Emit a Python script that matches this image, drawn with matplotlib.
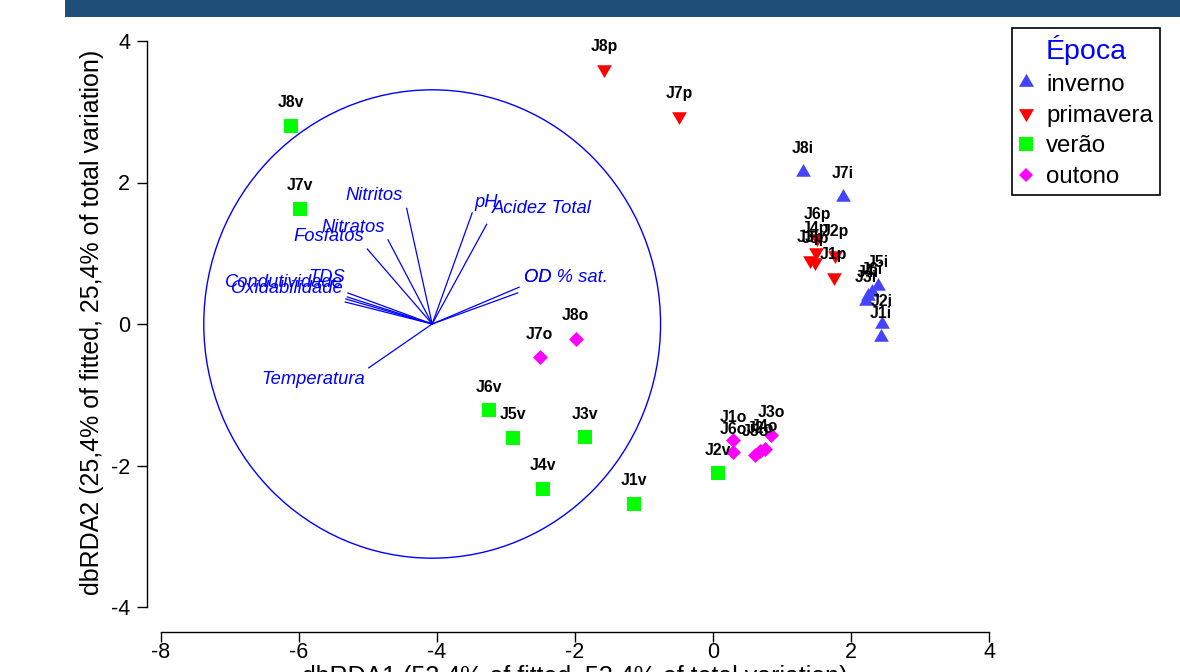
import matplotlib
matplotlib.use('Agg')
import matplotlib.pyplot as plt
from matplotlib.patches import Ellipse, Rectangle
from matplotlib.lines import Line2D

plt.rcParams['font.family'] = ['Liberation Sans', 'DejaVu Sans']

# ---------------- data ----------------
seasons = ["inverno", "primavera", "verão", "outono"]
season_colors = ["#4444FF", "#FF0000", "#00FF00", "#FF00FF"]

inv_labels = ["J1i", "J2i", "J3i", "J4i", "J5i", "J6i", "J7i", "J8i"]
inv_x = [2.43, 2.45, 2.22, 2.25, 2.39, 2.30, 1.88, 1.30]
inv_y = [-0.18, 0.00, 0.33, 0.40, 0.54, 0.45, 1.80, 2.15]

pri_labels = ["J1p", "J2p", "J3p", "J4p", "J5p", "J6p", "J7p", "J8p"]
pri_x = [1.75, 1.77, 1.41, 1.49, 1.48, 1.51, -0.49, -1.58]
pri_y = [0.66, 0.98, 0.90, 1.02, 0.88, 1.22, 2.94, 3.60]

ver_labels = ["J1v", "J2v", "J3v", "J4v", "J5v", "J6v", "J7v", "J8v"]
ver_x = [-1.14, 0.07, -1.86, -2.46, -2.90, -3.25, -5.99, -6.12]
ver_y = [-2.54, -2.11, -1.60, -2.33, -1.61, -1.22, 1.63, 2.80]

out_labels = ["J1o", "J2o", "J3o", "J4o", "J5o", "J6o", "J7o", "J8o"]
out_x = [0.29, 0.68, 0.84, 0.75, 0.61, 0.29, -2.51, -1.99]
out_y = [-1.64, -1.80, -1.57, -1.77, -1.85, -1.81, -0.47, -0.21]

# environmental vectors (origin + endpoints) and their labels
vec_origin = (-4.07, 0.0)
env_names = ["Nitritos", "Nitratos", "Fosfatos", "TDS", "Condutividade", "",
             "Oxidabilidade", "Temperatura", "pH", "Acidez Total", "OD", "OD % sat."]
env_x = [-4.44, -4.71, -5.01, -5.29, -5.30, -5.32, -5.33, -4.99, -3.49, -3.28, -2.81, -2.83]
env_y = [1.635, 1.19, 1.06, 0.438, 0.382, 0.353, 0.311, -0.62, 1.57, 1.41, 0.52, 0.44]
lab_x = [-4.49, -4.75, -5.06, -5.33, -5.36, -5.36, -5.36, -5.04, -3.45, -3.20, -2.74, -2.74]
lab_y = [1.82, 1.37, 1.24, 0.66, 0.59, 0.55, 0.50, -0.78, 1.72, 1.63, 0.66, 0.66]
lab_ha = ["right"] * 8 + ["left"] * 4

circle_radius = 3.31

x_ticks = [-8, -6, -4, -2, 0, 2, 4]
y_ticks = [-4, -2, 0, 2, 4]
x_label = "dbRDA1 (53,4% of fitted, 53,4% of total variation)"
y_label = "dbRDA2 (25,4% of fitted, 25,4% of total variation)"
legend_title = "Época"

# ---------------- figure ----------------
W, H = 1180, 672
fig = plt.figure(figsize=(W / 100, H / 100), dpi=100)

# dark band at top
fig.patches.append(Rectangle((65 / W, 1 - 17 / H), 1 - 65 / W, 17 / H,
                             transform=fig.transFigure, facecolor="#1F4E79",
                             edgecolor="none", zorder=0))

ax_l, ax_r, ax_b, ax_t = 147, 1003, 632, 20
ax = fig.add_axes([ax_l / W, (H - ax_b) / H, (ax_r - ax_l) / W, (ax_b - ax_t) / H])
ax.patch.set_alpha(0)

px_x, px_y = 69.0, 70.75   # pixels per unit
x0_px, y4_px = 161, 41
ax.set_xlim(-8 - (x0_px - ax_l) / px_x, -8 + (ax_r - x0_px) / px_x)
ax.set_ylim(-4 - (ax_b - (y4_px + 8 * px_y)) / px_y, 4 + (y4_px - ax_t) / px_y)

for s in ["top", "right"]:
    ax.spines[s].set_visible(False)
ax.spines["left"].set_bounds(-4, 4)
ax.spines["bottom"].set_bounds(-8, 4)
ax.spines["left"].set_linewidth(1.0)
ax.spines["bottom"].set_linewidth(1.0)
ax.set_xticks(x_ticks)
ax.set_yticks(y_ticks)
ax.set_xticklabels([str(t) for t in x_ticks])
ax.set_yticklabels([str(t) for t in y_ticks])
ax.tick_params(axis="both", direction="out", length=7, width=1.0, labelsize=15.5)
ax.tick_params(axis="x", pad=0.5)
ax.tick_params(axis="y", pad=5)

# circle
ax.add_patch(Ellipse(vec_origin, 2 * circle_radius, 2 * circle_radius,
                     fill=False, edgecolor="#0000FF", linewidth=1.0, zorder=1))

# vectors
for ex, ey in zip(env_x, env_y):
    ax.plot([vec_origin[0], ex], [vec_origin[1], ey], color="#0000FF", lw=0.9, zorder=2)
for name, lx, ly, ha in zip(env_names, lab_x, lab_y, lab_ha):
    if name:
        ax.text(lx, ly, name, color="#0000FF", fontsize=13.2, style="italic",
                ha=ha, va="center", zorder=3)

# points
sz = {"tri": 150, "sq": 92, "dia": 58}
up_tri = [(0, 1), (-0.866, -0.5), (0.866, -0.5)]
down_tri = [(0, -1), (-0.866, 0.5), (0.866, 0.5)]
groups = [
    (inv_labels, inv_x, inv_y, up_tri, sz["tri"], season_colors[0]),
    (pri_labels, pri_x, pri_y, down_tri, sz["tri"], season_colors[1]),
    (ver_labels, ver_x, ver_y, "s", sz["sq"], season_colors[2]),
    (out_labels, out_x, out_y, "D", sz["dia"], season_colors[3]),
]
for labs, xs, ys, mk, s, col in groups:
    ax.scatter(xs, ys, marker=mk, s=s, color=col, linewidths=0, zorder=4)
for labs, xs, ys, mk, s, col in groups:
    for lab, x, y in zip(labs, xs, ys):
        ax.annotate(lab, (x, y), xytext=(0, 16.5), textcoords="offset points",
                    ha="center", va="center", fontsize=11.3, fontweight="bold",
                    color="black", zorder=5)

# axis labels
fig.text(92 / W, 1 - 322 / H, y_label, rotation=90, ha="center", va="center", fontsize=18)
fig.text(575 / W, 1 - 665 / H, x_label, ha="center", va="top", fontsize=18)

# legend
handles = [
    Line2D([], [], linestyle="none", marker=up_tri, markersize=12.5, color=season_colors[0], markeredgewidth=0),
    Line2D([], [], linestyle="none", marker=down_tri, markersize=12.5, color=season_colors[1], markeredgewidth=0),
    Line2D([], [], linestyle="none", marker="s", markersize=9.6, color=season_colors[2], markeredgewidth=0),
    Line2D([], [], linestyle="none", marker="D", markersize=7.6, color=season_colors[3], markeredgewidth=0),
]
leg = ax.legend(handles, seasons, title=legend_title, loc="upper left",
                bbox_to_anchor=(1012 / W, 1 - 28 / H), bbox_transform=fig.transFigure,
                borderaxespad=0, fontsize=17.3, title_fontsize=20.5, handlelength=0.6,
                handletextpad=0.55, labelspacing=0.37, borderpad=0.28,
                fancybox=False, framealpha=1, edgecolor="black")
leg.get_frame().set_linewidth(1.2)
leg.get_title().set_color("#0000FF")

fig.savefig("out.png", dpi=100)
